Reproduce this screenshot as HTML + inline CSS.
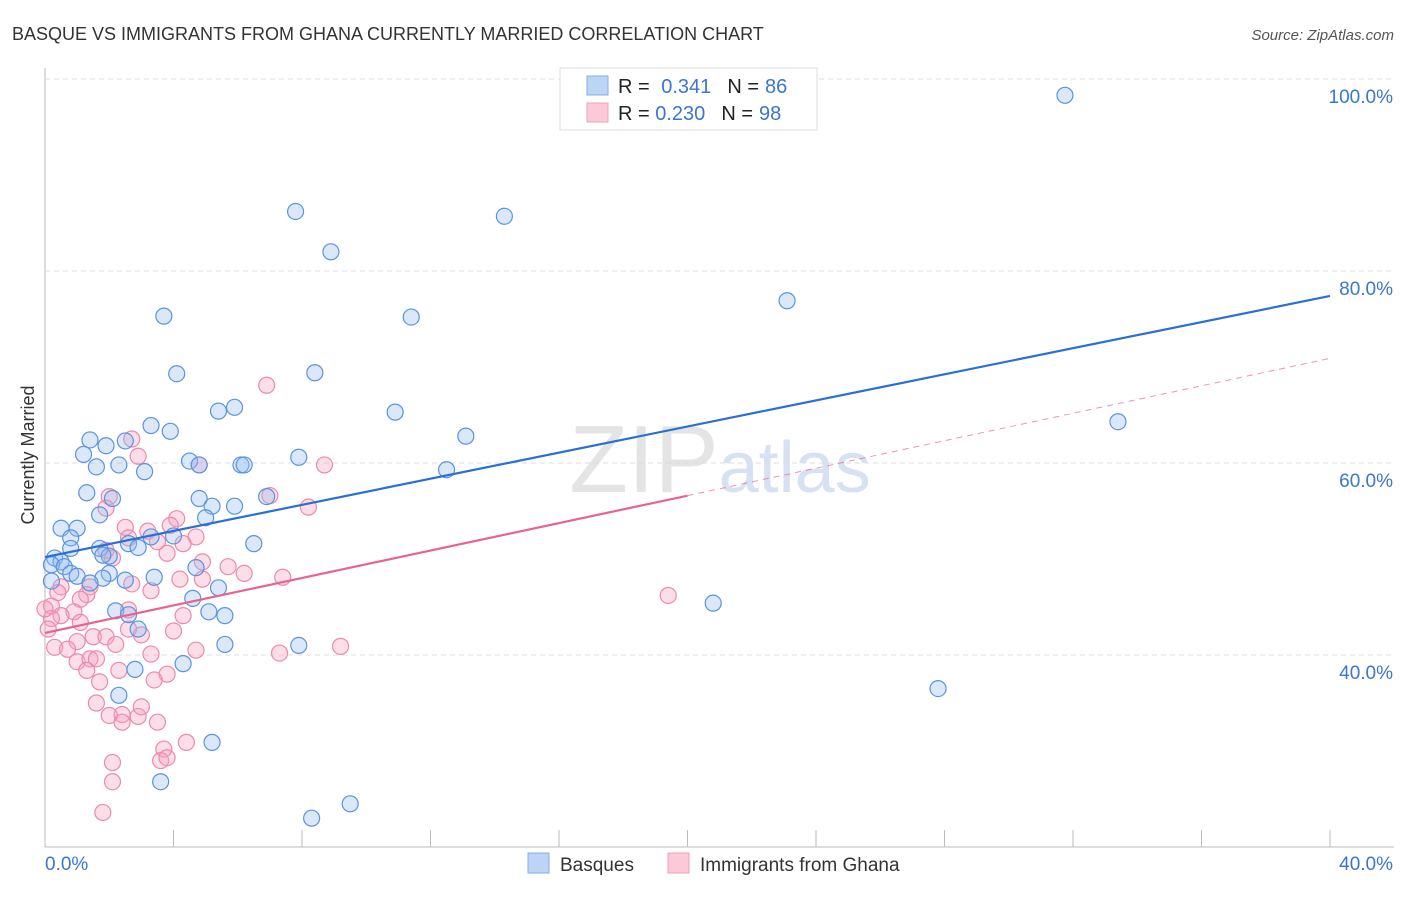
<!DOCTYPE html>
<html><head><meta charset="utf-8"><style>
body{margin:0;background:#fff;font-family:"Liberation Sans",sans-serif;}
svg text{font-family:"Liberation Sans",sans-serif;}
</style></head><body>
<svg id="chart" width="1406" height="892">
<text x="12" y="40" font-size="18" fill="#333">BASQUE VS IMMIGRANTS FROM GHANA CURRENTLY MARRIED CORRELATION CHART</text>
<text x="1394" y="40" font-size="15" fill="#555" font-style="italic" text-anchor="end">Source: ZipAtlas.com</text>
<text x="720" y="492" font-size="96" fill="#e4e4e4" text-anchor="middle" font-family="Liberation Serif">ZIP<tspan fill="#d6e2f3" font-family="Liberation Sans" font-size="72">atlas</tspan></text>
<text transform="translate(34,455) rotate(-90)" font-size="18" fill="#333" text-anchor="middle">Currently Married</text>
<g id="grid"></g><g id="pts"></g><g id="lines"></g>
<g>
<rect x="560" y="68" width="257" height="62" fill="#fff" stroke="#ddd"/>
<rect x="587" y="76" width="21" height="19" fill="#bcd4f5" stroke="#86aee6"/>
<rect x="587" y="103" width="21" height="19" fill="#fbc9d8" stroke="#f0a0b8"/>
<text x="618" y="93" font-size="20" fill="#222">R = <tspan fill="#3a76d0" dx="6">0.341</tspan><tspan fill="#222" dx="16">N =</tspan><tspan fill="#3a76d0" dx="6">86</tspan></text>
<text x="618" y="120" font-size="20" fill="#222">R = <tspan fill="#3a76d0">0.230</tspan><tspan fill="#222" dx="16">N =</tspan><tspan fill="#3a76d0" dx="6">98</tspan></text>
</g>
<g>
<rect x="528" y="853" width="21" height="20" fill="#bcd4f5" stroke="#86aee6"/>
<text x="560" y="871" font-size="19" fill="#333">Basques</text>
<rect x="668" y="853" width="21" height="20" fill="#fbc9d8" stroke="#f0a0b8"/>
<text x="700" y="871" font-size="19" fill="#333">Immigrants from Ghana</text>
</g>
</svg>
<script>
const yTicks=[40,60,80,100];
const yTickLabels=["40.0%","60.0%","80.0%","100.0%"];
const xTickLabels=["0.0%","40.0%"];
const blueX=[31.75,7.8,14.3,8.9,23.1,3.7,11.4,4.1,8.4,5.4,5.9,10.9,33.4,3.3,3.9,13.1,1.4,2.5,1.9,1.2,7.9,4.5,4.8,6.1,6.2,1.6,2.3,12.5,3.1,1.3,2.1,4.8,6.9,5.2,5.9,1.7,5.0,0.5,1.0,4.0,3.3,0.8,6.5,2.6,2.9,1.7,0.8,2.0,1.8,0.3,0.5,0.2,0.6,4.7,0.8,2.0,1.0,1.8,3.4,2.5,0.2,1.4,5.4,4.6,20.8,2.2,5.1,5.6,2.6,2.9,5.6,7.9,4.3,27.8,2.3,2.8,5.2,3.6,9.5,8.3];
const blueY=[98.3,86.2,85.7,82.0,76.9,75.3,75.2,69.3,69.4,65.4,65.8,65.3,64.3,63.9,63.3,62.8,62.4,62.3,61.8,60.9,60.6,60.2,59.8,59.8,59.8,59.6,59.8,59.3,59.1,56.9,56.3,56.3,56.5,55.5,55.5,54.6,54.3,53.2,53.2,52.4,52.3,52.2,51.6,51.6,51.2,51.1,51.1,50.3,50.4,50.1,49.7,49.4,49.2,49.1,48.5,48.5,48.2,48.0,48.1,47.8,47.7,47.5,47.0,45.9,45.4,44.6,44.5,44.1,44.2,42.7,41.1,41.0,39.1,36.5,35.8,38.5,30.9,26.8,24.5,23.0];
const pinkX=[6.9,2.7,2.9,4.8,8.7,2.0,7.0,1.9,8.2,4.1,2.5,3.9,3.2,4.7,2.6,3.5,4.3,1.9,3.8,2.1,4.9,5.7,6.2,7.4,4.2,4.9,2.7,0.5,1.4,3.3,0.4,1.3,1.1,19.4,0.2,0.9,0.5,0.2,1.1,2.6,4.3,2.6,4.0,1.5,1.9,3.0,1.0,0.3,0.7,2.2,4.7,7.3,9.2,3.3,1.0,1.4,1.6,1.3,2.3,3.8,3.4,1.7,1.6,2.4,2.0,2.9,3.5,2.4,3.0,4.4,3.7,3.6,3.8,2.1,2.1,1.8,0.1,0.0];
const pinkY=[68.1,62.5,60.7,59.8,59.8,56.5,56.6,55.3,55.4,54.2,53.3,53.5,52.9,52.3,52.2,51.8,51.6,50.9,50.6,50.1,49.7,49.2,48.5,48.1,47.9,47.9,47.4,47.1,47.1,46.7,46.5,46.3,45.8,46.2,45.1,44.5,44.1,43.8,43.4,44.7,44.1,42.7,42.5,41.9,41.9,42.1,41.4,40.8,40.6,41.1,40.5,40.2,40.9,40.1,39.3,39.6,39.6,38.4,38.4,38.0,37.4,37.2,35.0,33.8,33.7,33.6,33.0,33.0,34.6,30.9,30.2,29.0,29.3,28.8,26.8,23.6,42.7,44.8];
const blueFit=[50.2,77.4];
const pinkFit=[42.3,70.9];
const pinkSolidEnd=20;

const X=v=>45+v/40*1285, Y=v=>847-(v-20)*9.6;
const NS="http://www.w3.org/2000/svg";
function mk(t,a,p){const e=document.createElementNS(NS,t);for(const k in a)e.setAttribute(k,a[k]);p.appendChild(e);return e;}
const grid=document.getElementById('grid');
const ax=mk('line',{x1:45,y1:68,x2:45,y2:847,stroke:'#bbb'},grid);


const bx=mk('line',{x1:45,y1:847,x2:1394,y2:847,stroke:'#bbb'},grid);


for(let i=1;i<=10;i++){const t=mk('line',{x1:X(i*4),y1:830,x2:X(i*4),y2:847,stroke:'#bbb'},grid);

}
yTicks.forEach((v,i)=>{const g=mk('line',{x1:45,y1:Y(v),x2:1394,y2:Y(v),stroke:'#ddd','stroke-dasharray':'5,4'},grid);


const t=mk('text',{x:1393,y:Y(v)+24,'font-size':19,fill:'#3a76d0','text-anchor':'end'},grid);t.textContent=yTickLabels[i];

});
xTickLabels.forEach((s,i)=>{const t=mk('text',{x:i?1393:45,y:870,'font-size':19,fill:'#3a76d0','text-anchor':i?'end':'start'},grid);t.textContent=s;

});
const pts=document.getElementById('pts');
pinkX.forEach((x,i)=>{const c=mk('circle',{cx:X(x),cy:Y(pinkY[i]),r:8,fill:'rgba(246,160,188,0.35)',stroke:'#ec8aa9','stroke-width':1.2},pts);

});
blueX.forEach((x,i)=>{const c=mk('circle',{cx:X(x),cy:Y(blueY[i]),r:8,fill:'rgba(150,190,240,0.35)',stroke:'#5a93e0','stroke-width':1.2},pts);

});
const L=document.getElementById('lines');
const bl=mk('line',{x1:X(0),y1:Y(blueFit[0]),x2:X(40),y2:Y(blueFit[1]),stroke:'#2a6fd6','stroke-width':2.2},L);


const pm=pinkFit[0]+(pinkFit[1]-pinkFit[0])*pinkSolidEnd/40;
const pl=mk('line',{x1:X(0),y1:Y(pinkFit[0]),x2:X(pinkSolidEnd),y2:Y(pm),stroke:'#e8648f','stroke-width':2.2},L);


const pd=mk('line',{x1:X(pinkSolidEnd),y1:Y(pm),x2:X(40),y2:Y(pinkFit[1]),stroke:'#e8648f','stroke-width':1,'stroke-dasharray':'6,5',opacity:0.7},L);


</script>
</body></html>
